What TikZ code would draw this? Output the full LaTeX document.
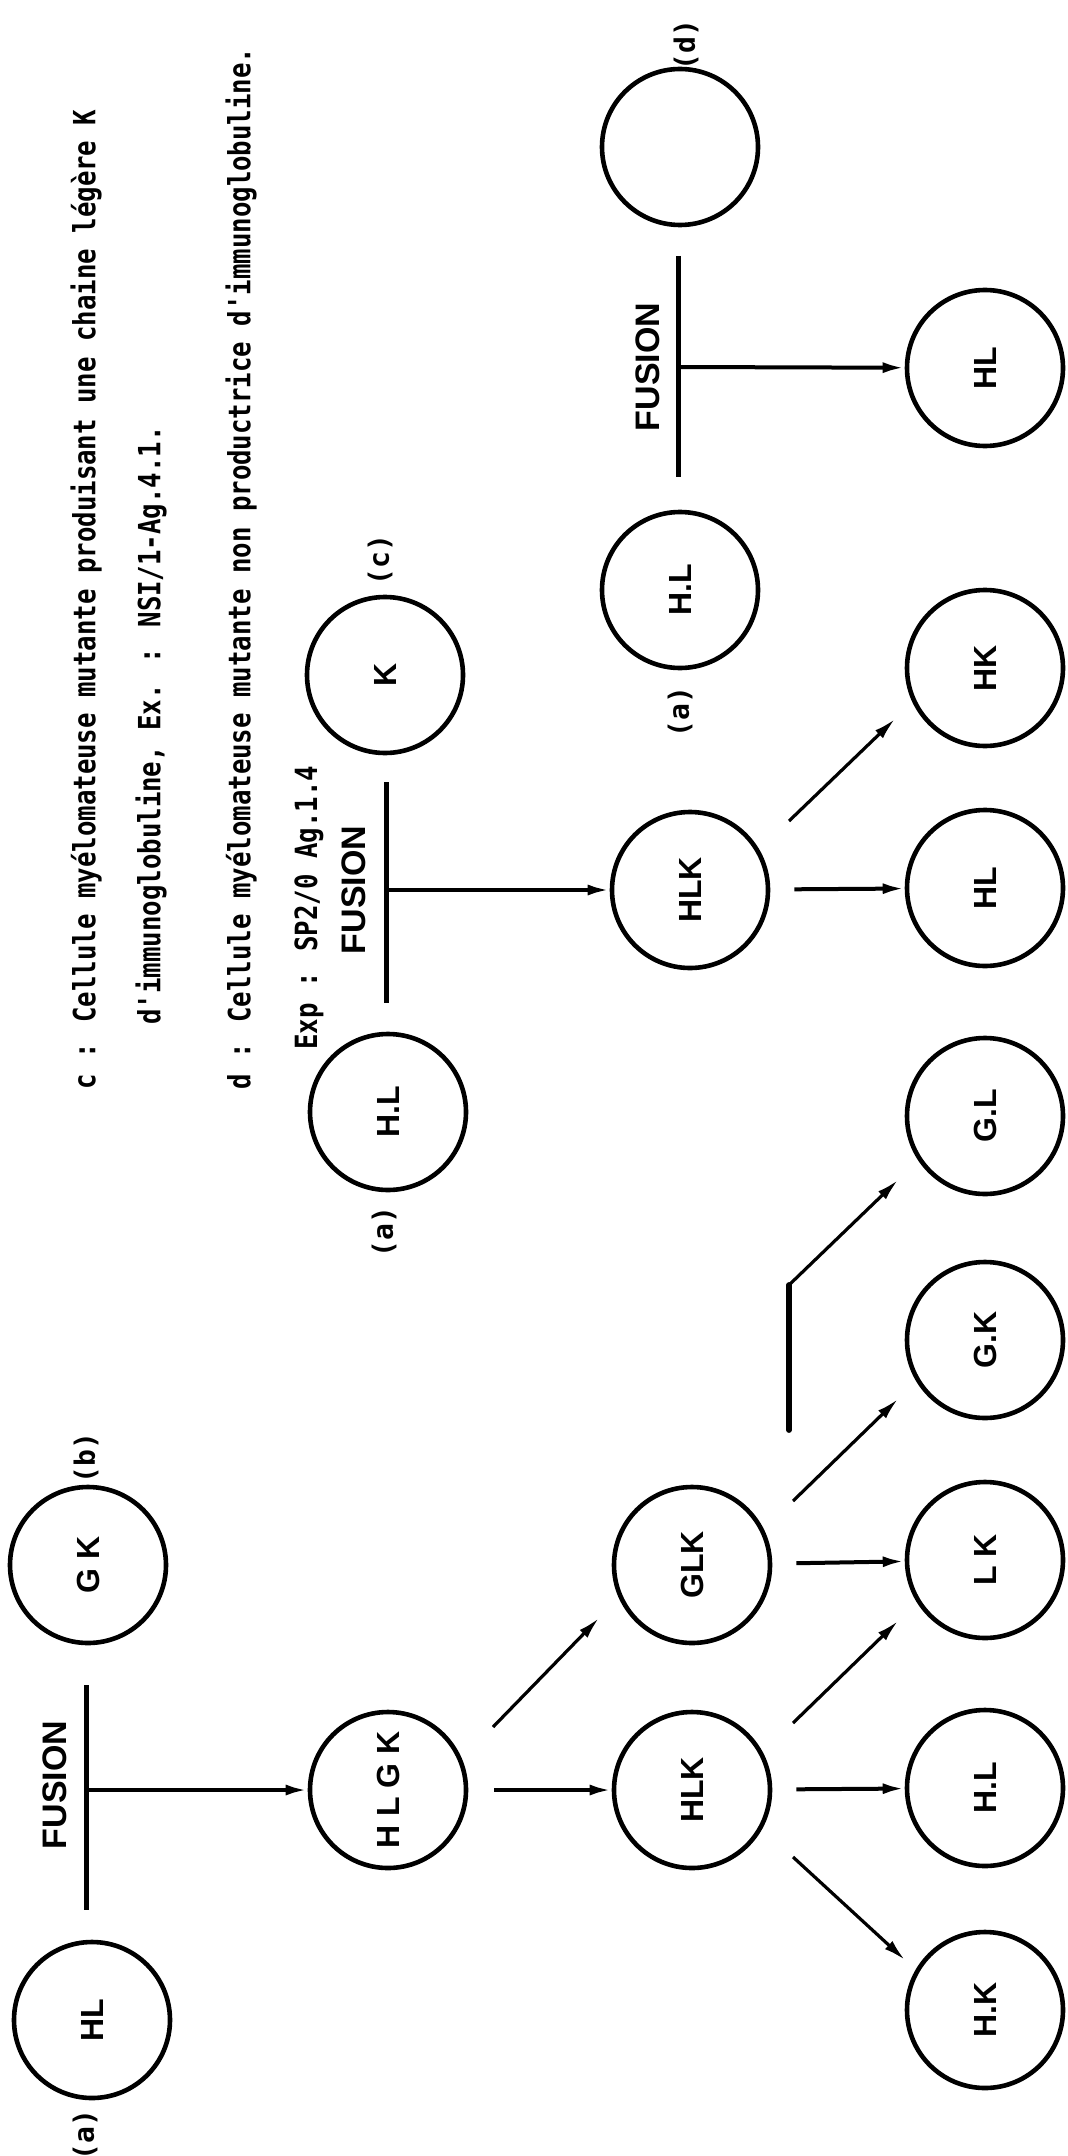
\documentclass[tikz,border=0pt]{standalone}
\usepackage{fontspec}
\setmainfont{Liberation Sans}
\newfontfamily\capfont{DejaVu Sans Mono}
\usetikzlibrary{arrows.meta}
\newcommand{\captxt}[1]{\scalebox{0.84}[1]{#1}}
\begin{document}
\begin{tikzpicture}[x=0.5pt,y=-0.5pt,
  cell/.style={circle,draw,line width=2.3pt,minimum size=78pt,inner sep=0pt,
    font=\bfseries\fontsize{16}{16}\selectfont,rotate=90},
  lab/.style={font=\capfont\bfseries\fontsize{14}{14}\selectfont,rotate=90,inner sep=0pt},
  captext/.style={font=\capfont\bfseries\fontsize{15.3}{15}\selectfont,rotate=90,inner sep=0pt,anchor=west},
  fus/.style={font=\bfseries\fontsize{17}{17}\selectfont,rotate=90,inner sep=0pt},
  arr/.style={-{Latex[length=11pt,width=5.5pt]},line width=2pt},
  darr/.style={-{Latex[length=11pt,width=5.5pt]},line width=1.6pt},
  fbar/.style={line width=2.5pt}]
\useasboundingbox (0,0) rectangle (1067,2156);

% captions
\node[captext] (t1) at (86,1090) {\captxt{c : Cellule myélomateuse mutante produisant une chaine légère K}};
\node[captext] (t2) at (151,1025) {\captxt{d'immunoglobuline, Ex. : NSI/1-Ag.4.1.}};
\node[captext] (t3) at (241,1090) {\captxt{d : Cellule myélomateuse mutante non productrice d'immunoglobuline.}};
\node[captext] (t4) at (309,1050) {\captxt{Exp : SP2/0 Ag.1.4}};

% group 1
\node[cell] (a1) at (92,2020) {HL};
\node[lab] (a1l) at (85,2135) {(a)};
\node[cell] (b1) at (88,1565) {G K};
\node[lab] (b1l) at (86,1458) {(b)};
\coordinate (f1t) at (86,1685);
\coordinate (f1b) at (86,1910);
\coordinate (f1m) at (86,1790);
\node[fus] (f1) at (55,1785) {FUSION};
\node[cell] (hlgk) at (388,1790) {H L G K};
\node[cell] (hlk1) at (692,1790) {HLK};
\node[cell] (glk) at (692,1565) {GLK};
\node[cell] (hk1) at (985,2010) {H.K};
\node[cell] (hl1) at (985,1788) {H.L};
\node[cell] (lk) at (985,1560) {L K};
\node[cell] (gk) at (985,1340) {G.K};
\node[cell] (gl) at (985,1116) {G.L};
\coordinate (bk1) at (789,1430);
\coordinate (bk2) at (789,1285);

\draw[fbar] (f1t) -- (f1b);
\draw[arr] (f1m) -- (hlgk);
\draw[arr,shorten <=13pt] (hlgk) -- (hlk1);
\draw[darr] ([shift={(105,-63)}]hlgk.center) -- ([shift={(-93,53)}]glk.center);
\draw[arr,shorten <=12pt] (hlk1) -- (hl1);
\draw[darr] ([shift={(101,67)}]hlk1.center) -- ([shift={(-80,-50)}]hk1.center);
\draw[darr] ([shift={(101,-67)}]hlk1.center) -- ([shift={(-87,61)}]lk.center);
\draw[arr,shorten <=12pt] (glk) -- (lk);
\draw[darr] ([shift={(101,-64)}]glk.center) -- ([shift={(-87,59)}]gk.center);
\draw[line width=2.9pt,line cap=round] (bk1) -- (bk2);
\draw[darr] (bk2) -- ([shift={(-87,64)}]gl.center);

% group 2
\node[cell] (a2) at (388,1112) {H.L};
\node[lab] (a2l) at (384,1232) {(a)};
\node[cell] (c2) at (385,675) {K};
\node[lab] (c2l) at (380,560) {(c)};
\coordinate (f2t) at (386,782);
\coordinate (f2b) at (386,1003);
\coordinate (f2m) at (386,890);
\node[fus] (f2) at (354,890) {FUSION};
\node[cell] (hlk2) at (690,890) {HLK};
\node[cell] (hl2) at (985,888) {HL};
\node[cell] (hk2) at (985,668) {HK};
\draw[fbar] (f2t) -- (f2b);
\draw[arr] (f2m) -- (hlk2);
\draw[arr,shorten <=12pt] (hlk2) -- (hl2);
\draw[darr] ([shift={(99,-69)}]hlk2.center) -- ([shift={(-90,51)}]hk2.center);

% group 3
\node[cell] (a3) at (680,590) {H.L};
\node[lab] (a3l) at (680,712) {(a)};
\node[cell] (d3) at (680,147) {};
\node[lab] (d3l) at (686,45) {(d)};
\coordinate (f3t) at (678,256);
\coordinate (f3b) at (678,477);
\coordinate (f3m) at (678,367);
\node[fus] (f3) at (648,367) {FUSION};
\node[cell] (hl3) at (985,368) {HL};
\draw[fbar] (f3t) -- (f3b);
\draw[arr] (f3m) -- (hl3);
\end{tikzpicture}
\end{document}
